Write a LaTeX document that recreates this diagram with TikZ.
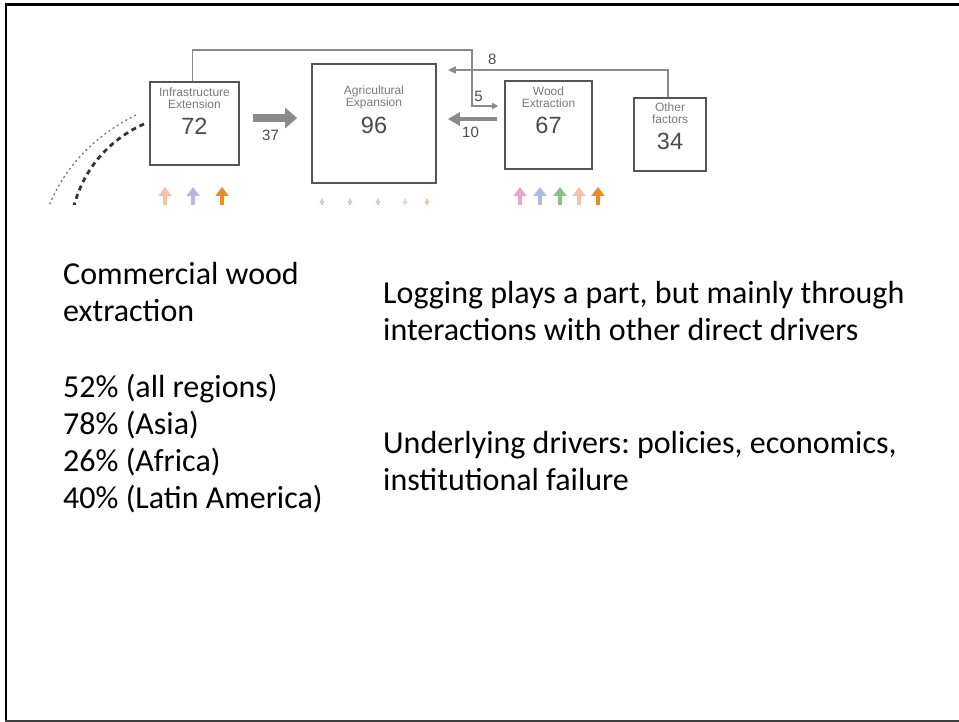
\documentclass[tikz,border=0pt]{standalone}
\usepackage{fontspec}
\setmainfont{Carlito}
\newfontfamily\figfont{Liberation Sans}
\usetikzlibrary{arrows.meta}
\usepackage{xcolor}
\frenchspacing
\definecolor{boxline}{HTML}{555555}
\definecolor{linkgray}{HTML}{8A8A8A}
\definecolor{figtext}{HTML}{4A4A4A}
\definecolor{titletext}{HTML}{7A7A7A}
\definecolor{upsalmon}{HTML}{F4C2AA}
\definecolor{uplavender}{HTML}{B6B8DE}
\definecolor{uporange}{HTML}{EE8A24}
\definecolor{uppink}{HTML}{E6A6C6}
\definecolor{upblue}{HTML}{A9BBE2}
\definecolor{upgreen}{HTML}{86C286}
\definecolor{upfaint}{HTML}{CFCFCF}
\tikzset{
    factor/.style={draw=boxline, line width=1.7pt, fill=white},
    factortitle/.style={font=\figfont\fontsize{12}{11.5}\selectfont, text=titletext, align=center, inner sep=0pt},
    factornum/.style={font=\figfont\fontsize{23.5}{23.5}\selectfont, text=figtext, inner sep=0pt},
    linklabel/.style={font=\figfont\fontsize{15}{15}\selectfont, text=figtext, inner sep=0pt},
    bodytext/.style={font=\fontsize{32}{36.7}\selectfont, align=left, inner sep=0pt, anchor=base west}
}
\newcommand{\factorbox}[8] {
    \node[factor, minimum width=#4, minimum height=#5] (#1) at (#2, #3) {};
    \node[factortitle] (#1-title) at (#2, #6) {#7};
    \node[factornum] (#1-num) at (#2, {#6+28}) {#8};
}

\begin{document}
\begin{tikzpicture}[x=1pt, y=-1pt]
        \useasboundingbox (0,0) rectangle (959,722);
        \draw[line width=3.5pt] (959,4.5) -- (5,4.5);
        \draw[line width=2.5pt] (6.2,3) -- (6.2,721);
        \draw[line width=2pt, black!75] (5,721) -- (959,721);

        \factorbox{infra}{194.5}{123.3}{89pt}{83pt}{98}{Infrastructure\\Extension}{72}
        \factorbox{agri}{374}{123.5}{124pt}{119pt}{97.5}{Agricultural\\Expansion}{96}
        \factorbox{wood}{548.5}{125}{87pt}{88pt}{97.3}{Wood\\Extraction}{67}
        \factorbox{other}{670}{134.5}{72pt}{73pt}{113.3}{Other\\factors}{34}

        \coordinate (loopcorner) at (472,50);
        \begin{scope}[every path/.style={draw=linkgray}]
            \draw[line width=1.5pt, -{Triangle[length=6pt,width=6pt]}, shorten >=6pt]
                ([xshift=-2pt]infra.north) |- (loopcorner) |- ([yshift=19pt]wood.west)
                node[linklabel, pos=0.6, above=4pt] (five) {5};
            \draw[line width=1.8pt, -{Triangle[length=8pt,width=7pt]}, shorten >=11pt]
                ([xshift=-2pt]other.north) |- ([yshift=53.5pt]agri.east)
                node[linklabel, pos=0.88, above=4.5pt] (eight) {8};
            \draw[line width=3.5pt, -{Triangle[length=12pt,width=13pt]}, shorten <=7pt, shorten >=11pt]
                ([yshift=6pt]wood.west) -- ([yshift=6pt]wood.west -| agri.east)
                node[linklabel, midway, below=6.5pt] (ten) {10};
            \draw[line width=7.5pt, -{Triangle[length=12pt,width=20pt]}, shorten <=13pt, shorten >=14pt]
                ([yshift=5.3pt]infra.east) -- ([yshift=5.3pt]infra.east -| agri.west)
                node[linklabel, pos=0.43, below=8pt] (thirtyseven) {37};
        \end{scope}

        \begin{scope}
            \clip (0,0) rectangle (959,205);
            \draw[boxline!80, line width=1.3pt, dash pattern=on 2pt off 3pt]
                (136,115) .. controls (95,135) and (60,170) .. (46,215);
            \draw[black!80, line width=2.8pt, dash pattern=on 5pt off 4pt]
                (144,124) .. controls (108,140) and (80,172) .. (72,215);
            \foreach \ux/\uc in {165/upsalmon, 193/uplavender, 222/uporange, 520/uppink, 540/upblue, 560/upgreen, 579/upsalmon, 598/uporange}
                \draw[\uc, line width=4pt, -{Triangle[length=9pt,width=13pt]}] (\ux,212) -- (\ux,187);
            \foreach \ux/\uc in {322/upfaint, 350/upfaint, 378/upfaint, 405/upblue!50, 427/upsalmon}
                \draw[\uc, line width=1.5pt, -{Triangle[length=5pt,width=5pt]}] (\ux,212) -- (\ux,198);
        \end{scope}

        \node[bodytext] (extraction) at (63,508) {Commercial wood\\extraction\\[39.6pt]52\% (all regions)\\78\% (Asia)\\26\% (Africa)\\40\% (Latin America)};
        \node[bodytext] (logging) at (383,340) {Logging plays a part, but mainly through\\interactions with other direct drivers};
        \node[bodytext] (underlying) at (383,490) {Underlying drivers: policies, economics,\\institutional failure};
    \end{tikzpicture}
\end{document}
